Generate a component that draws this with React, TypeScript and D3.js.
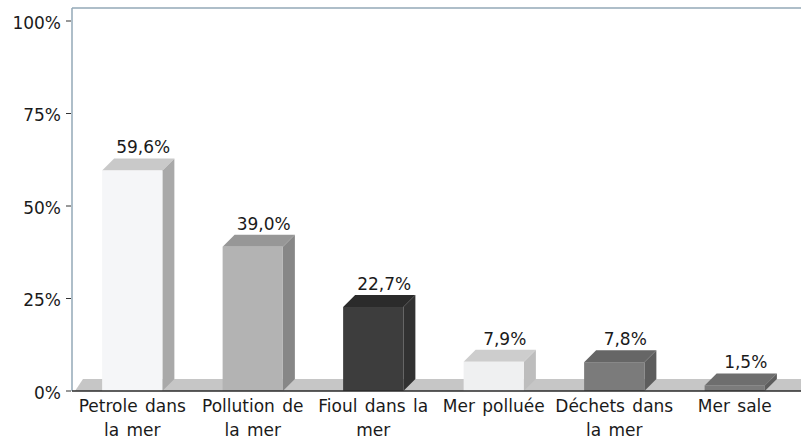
import * as d3 from "d3";

// chart data
const categories = [
  "Petrole dans\nla mer",
  "Pollution de\nla mer",
  "Fioul dans la\nmer",
  "Mer polluée",
  "Déchets dans\nla mer",
  "Mer sale",
];
const values = [59.6, 39.0, 22.7, 7.9, 7.8, 1.5];
const yTicks = [0, 25, 50, 75, 100];

// front / top / side shades for each bar
const palette = [
  ["#f5f6f8", "#c9c9c9", "#a9a9a9"],
  ["#b3b3b3", "#979797", "#878787"],
  ["#3d3d3d", "#2b2b2b", "#323232"],
  ["#eff0f1", "#cdcdcd", "#bdbdbd"],
  ["#7b7b7b", "#666666", "#5d5d5d"],
  ["#7b7b7b", "#6e6e6e", "#5d5d5d"],
];

const W = 801;
const H = 439;
const left = 72;
const right = 795;
const top = 8;
const dx = 12;
const dy = 12;
const font = "'DejaVu Sans', Verdana, sans-serif";
const fmt = (v) => v.toFixed(1).replace(".", ",") + "%";

const App = () => {
  const x = d3
    .scaleBand()
    .domain(categories)
    .range([left, right])
    .paddingInner(0.5)
    .paddingOuter(0.25);
  const y = d3.scaleLinear().domain([0, 100]).range([391, 21]);
  const bw = x.bandwidth();
  const base = y(0);

  const floor = `M75,${base} L83,${base - dy} L${W},${base - dy} L${W},${base} Z`;

  return (
    <svg
      width={W}
      height={H}
      style={{ position: "absolute", left: 0, top: 0, background: "#fff" }}
      fontFamily={font}
    >
      {/* floor */}
      <path d={floor} fill="#c6c6c6" />

      {/* bars */}
      {categories.map((c, i) => {
        const x0 = x(c);
        const x1 = x0 + bw;
        const yt = y(values[i]);
        const [front, topC, side] = palette[i];
        return (
          <g key={c}>
            <path
              d={`M${x1},${yt} L${x1 + dx},${yt - dy} L${x1 + dx},${base - dy} L${x1},${base} Z`}
              fill={side}
            />
            <path
              d={`M${x0},${yt} L${x0 + dx},${yt - dy} L${x1 + dx},${yt - dy} L${x1},${yt} Z`}
              fill={topC}
            />
            <rect x={x0} y={yt} width={bw} height={base - yt} fill={front} />
            <text
              x={x0 + bw / 2 + 11}
              y={yt - dy - 5}
              textAnchor="middle"
              fontSize={17}
              fill="#1a1a1a"
            >
              {fmt(values[i])}
            </text>
          </g>
        );
      })}

      {/* frame */}
      <line x1={left} x2={W} y1={top} y2={top} stroke="#93a9b7" strokeWidth={1.5} />
      <line x1={left} x2={left} y1={top} y2={base} stroke="#93a9b7" strokeWidth={1.5} />
      <line x1={left} x2={W} y1={base} y2={base} stroke="#2a2a2a" strokeWidth={1.5} />

      {/* y axis */}
      {yTicks.map((t) => (
        <g key={t}>
          <line x1={66} x2={71} y1={y(t)} y2={y(t)} stroke="#333" strokeWidth={1} />
          <text
            x={61}
            y={y(t) + 7.5}
            textAnchor="end"
            fontSize={17}
            fill="#1a1a1a"
          >
            {t + "%"}
          </text>
        </g>
      ))}

      {/* x labels */}
      {categories.map((c) => (
        <text
          key={c}
          x={x(c) + bw / 2}
          textAnchor="middle"
          fontSize={17}
          fill="#1a1a1a"
          style={{ wordSpacing: "2px" }}
        >
          {c.split("\n").map((ln, j) => (
            <tspan key={j} x={x(c) + bw / 2} y={412 + j * 24}>
              {ln}
            </tspan>
          ))}
        </text>
      ))}
    </svg>
  );
};

export default App;
